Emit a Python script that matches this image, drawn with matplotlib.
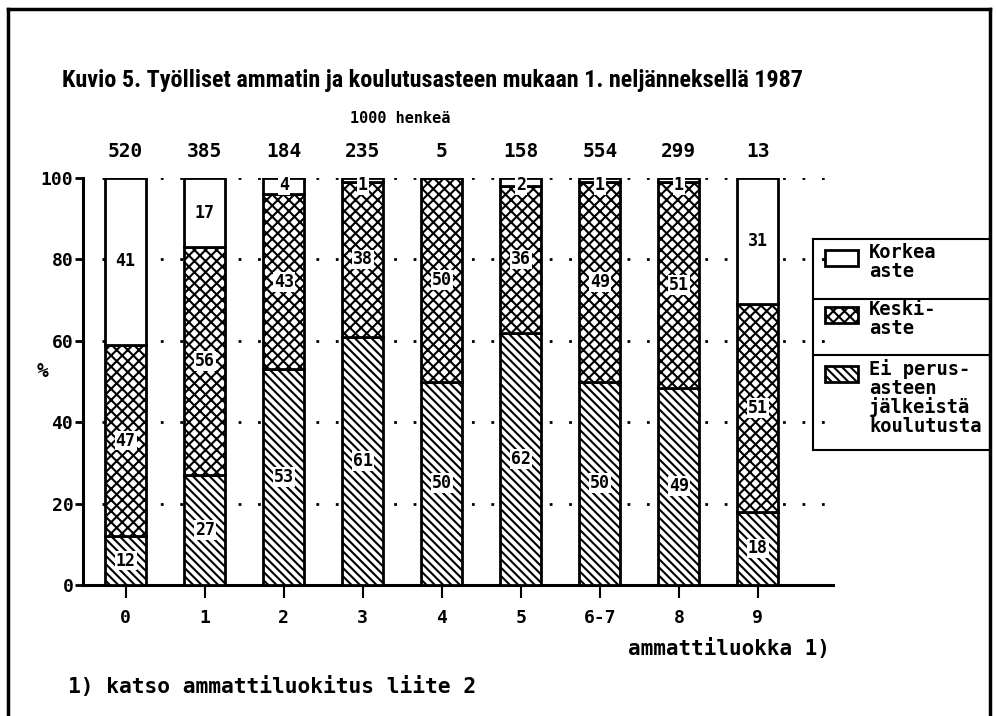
import numpy as np
import matplotlib
matplotlib.use("Agg")
import matplotlib.pyplot as plt
from matplotlib.patches import Rectangle
from matplotlib.lines import Line2D

# ---- data ----
categories = ["0", "1", "2", "3", "4", "5", "6-7", "8", "9"]
totals = [520, 385, 184, 235, 5, 158, 554, 299, 13]   # 1000 henkeä
ei_perus = [12, 27, 53, 61, 50, 62, 50, 49, 18]
keski = [47, 56, 43, 38, 50, 36, 49, 51, 51]
korkea = [41, 17, 4, 1, 0, 2, 1, 1, 31]

legend_labels = ["Korkea\naste", "Keski-\naste", "Ei perus-\nasteen\njälkeistä\nkoulutusta"]

MONO = ["DejaVu Sans Mono"]
TITLE_FONT = ["Roboto Condensed", "Liberation Sans Narrow", "Roboto", "DejaVu Sans"]
plt.rcParams["hatch.linewidth"] = 1.5
plt.rcParams["font.weight"] = "bold"

fig = plt.figure(figsize=(9.97, 7.16), dpi=100)
ax = fig.add_axes([83 / 997, 1 - 585 / 716, 750 / 997, 407 / 716])

x = np.arange(len(categories))
vals = np.array([ei_perus, keski, korkea], dtype=float)
shares = vals / vals.sum(axis=0) * 100   # bars stacked to 100 %
hatches = ["\\\\\\\\", "xxx", ""]
w = 0.52

bottom = np.zeros(len(categories))
for k in range(3):
    ax.bar(x, shares[k], w, bottom=bottom, color="white", edgecolor="black",
           hatch=hatches[k], linewidth=2, zorder=3)
    for i in range(len(categories)):
        v = vals[k][i]
        if v <= 0:
            continue
        yc = bottom[i] + shares[k][i] / 2
        if shares[k][i] < 5:
            yc = 98.3
        ax.text(x[i], yc, "%d" % v, ha="center", va="center", fontsize=12,
                family=MONO, fontweight="bold", zorder=5,
                bbox=dict(boxstyle="square,pad=0.05", fc="white", ec="none"))
    bottom += shares[k]

# totals above bars
for i, t in enumerate(totals):
    ax.text(x[i], 106.4, str(t), ha="center", va="center", fontsize=14,
            family=MONO, fontweight="bold")
ax.text(3.47, 114.7, "1000 henkeä", ha="center", va="center", fontsize=11,
        family=MONO, fontweight="bold")

ax.set_xlim(-0.54, 8.95)
ax.set_ylim(0, 100)
for yy in [20, 40, 60, 80, 100]:
    ax.plot([-0.3, 8.9], [yy, yy], linestyle=(0, (1, 6)), color="black",
            linewidth=2, zorder=1)

ax.spines["top"].set_visible(False)
ax.spines["right"].set_visible(False)
ax.spines["left"].set_linewidth(2.2)
ax.spines["bottom"].set_linewidth(2.2)
ax.set_xticks(x)
ax.set_xticklabels(categories, family=MONO, fontsize=13, fontweight="bold")
ax.set_yticks([0, 20, 40, 60, 80, 100])
ax.set_yticklabels(["0", "20", "40", "60", "80", "100"], family=MONO,
                   fontsize=13, fontweight="bold")
ax.tick_params(axis="x", length=9, width=1.5, pad=8)
ax.tick_params(axis="y", length=6, width=2, pad=1)

fig.text(42 / 997, 1 - 372 / 716, "%", fontsize=14, fontweight="bold",
         family=MONO, ha="center", va="center")
fig.text(830 / 997, 1 - 648 / 716, "ammattiluokka 1)", fontsize=15,
         fontweight="bold", family=MONO, ha="right", va="center")
fig.text(68 / 997, 1 - 686 / 716, "1) katso ammattiluokitus liite 2", fontsize=15.3,
         fontweight="bold", family=MONO, ha="left", va="center")

fig.text(62 / 997, 1 - 80 / 716,
         "Kuvio 5. Työlliset ammatin ja koulutusasteen mukaan 1. neljänneksellä 1987",
         fontsize=17.4, family=TITLE_FONT, fontweight="bold", ha="left", va="center")

# frame around the figure
W, H = 997.0, 716.0
def fline(xs, ys, lw=2.5):
    fig.add_artist(Line2D([a / W for a in xs], [1 - b / H for b in ys],
                          color="black", linewidth=lw))
fline([8, 990], [9, 9])
fline([8, 8], [9, 716])
fline([990, 990], [9, 716])

# legend box
fline([813, 990], [239, 239], 1.5)
fline([813, 813], [239, 450], 1.5)
fline([813, 990], [450, 450], 1.5)
fline([813, 990], [299, 299], 1.5)
fline([813, 990], [355, 355], 1.5)
sw_y = [250, 307, 366]
leg_hatch = ["", "xxx", "\\\\\\\\"]
for j in range(3):
    fig.add_artist(Rectangle((825 / W, 1 - (sw_y[j] + 16) / H), 33 / W, 16 / H,
                             transform=fig.transFigure, facecolor="white",
                             edgecolor="black", hatch=leg_hatch[j], linewidth=2))
    fig.text(869 / W, 1 - (sw_y[j] - 7) / H, legend_labels[j], fontsize=13.5,
             family=MONO, fontweight="bold", ha="left", va="top", linespacing=0.97)

fig.savefig("out.png", dpi=100)
